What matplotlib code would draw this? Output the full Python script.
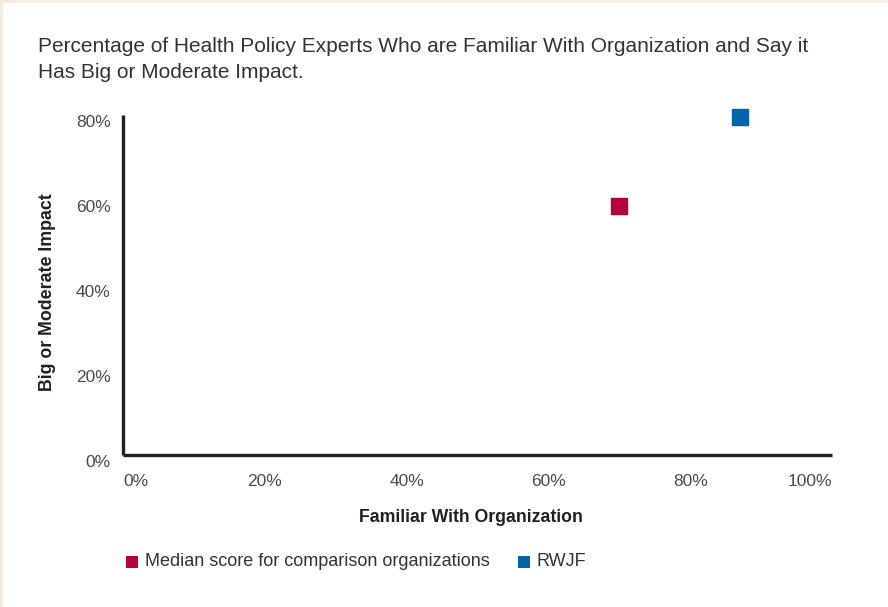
import matplotlib
matplotlib.use("Agg")
import matplotlib.pyplot as plt
import matplotlib.transforms as mtransforms
from matplotlib.patches import Rectangle

series_names = ["Median score for comparison organizations", "RWJF"]
familiar = [70, 87]
impact = [58.5, 79.5]
colors = ["#b3003c", "#0065a8"]
xticks = [0, 20, 40, 60, 80, 100]
yticks = [0, 20, 40, 60, 80]
xtick_labels = ["0%", "20%", "40%", "60%", "80%", "100%"]
ytick_labels = ["0%", "20%", "40%", "60%", "80%"]

plt.rcParams['font.family'] = ['Liberation Sans', 'DejaVu Sans']

W, H = 888, 607
fig = plt.figure(figsize=(W/100, H/100), dpi=100)
fig.patch.set_facecolor("white")
# peach border (top and left)
fig.patches.append(Rectangle((0, 0), 3/W, 1, transform=fig.transFigure,
                             facecolor="#f7ece2", edgecolor="none", zorder=0))
fig.patches.append(Rectangle((0, 1 - 3/H), 1, 3/H, transform=fig.transFigure,
                             facecolor="#f7ece2", edgecolor="none", zorder=0))

ax = fig.add_axes([123/W, 1 - 455/H, 709/W, 340/H])
ax.set_zorder(2)
ax.patch.set_alpha(0)
for xv, yv, c in zip(familiar, impact, colors):
    ax.plot([xv], [yv], marker="s", markersize=12.2, color=c, linestyle="none",
            clip_on=False, zorder=5)

ax.set_xlim(0, 100)
ax.set_ylim(0, 80)
for s in ["top", "right"]:
    ax.spines[s].set_visible(False)
for s in ["left", "bottom"]:
    ax.spines[s].set_linewidth(2.4)
    ax.spines[s].set_color("#231f20")
    ax.spines[s].set_capstyle("butt")

ax.set_xticks(xticks)
ax.set_xticklabels(xtick_labels)
ax.set_yticks(yticks)
ax.set_yticklabels(ytick_labels)
ax.tick_params(length=0, labelsize=12.5, labelcolor="#4a4a4a")
ax.tick_params(axis="x", pad=14)
ax.tick_params(axis="y", pad=9)
xl = ax.get_xticklabels()
xl[0].set_ha("left")
xl[-1].set_ha("right")
off = mtransforms.ScaledTranslation(0, -6/100, fig.dpi_scale_trans)
for lab in ax.get_yticklabels():
    lab.set_transform(lab.get_transform() + off)

fig.text(38/W, 1 - 47/H, "Percentage of Health Policy Experts Who are Familiar With Organization and Say it",
         fontsize=15, color="#333333", va="center", ha="left")
fig.text(38/W, 1 - 73/H, "Has Big or Moderate Impact.",
         fontsize=15, color="#333333", va="center", ha="left")

fig.text(47/W, 1 - 292/H, "Big or Moderate Impact", rotation=90, fontsize=12.8,
         fontweight="bold", color="#231f20", va="center", ha="center")
fig.text(471/W, 1 - 517/H, "Familiar With Organization", fontsize=12.7,
         fontweight="bold", color="#231f20", va="center", ha="center")

# legend
leg_y = 1 - 562/H
fig.patches.append(Rectangle((126/W, leg_y - 6/H), 12/W, 12/H, transform=fig.transFigure,
                             facecolor=colors[0], edgecolor="none", zorder=3))
fig.text(145/W, leg_y, series_names[0], fontsize=13, color="#333333", va="center", ha="left")
fig.patches.append(Rectangle((518/W, leg_y - 6/H), 12/W, 12/H, transform=fig.transFigure,
                             facecolor=colors[1], edgecolor="none", zorder=3))
fig.text(537/W, leg_y, series_names[1], fontsize=13, color="#333333", va="center", ha="left")

fig.savefig("out.png", dpi=100, facecolor=fig.get_facecolor())
